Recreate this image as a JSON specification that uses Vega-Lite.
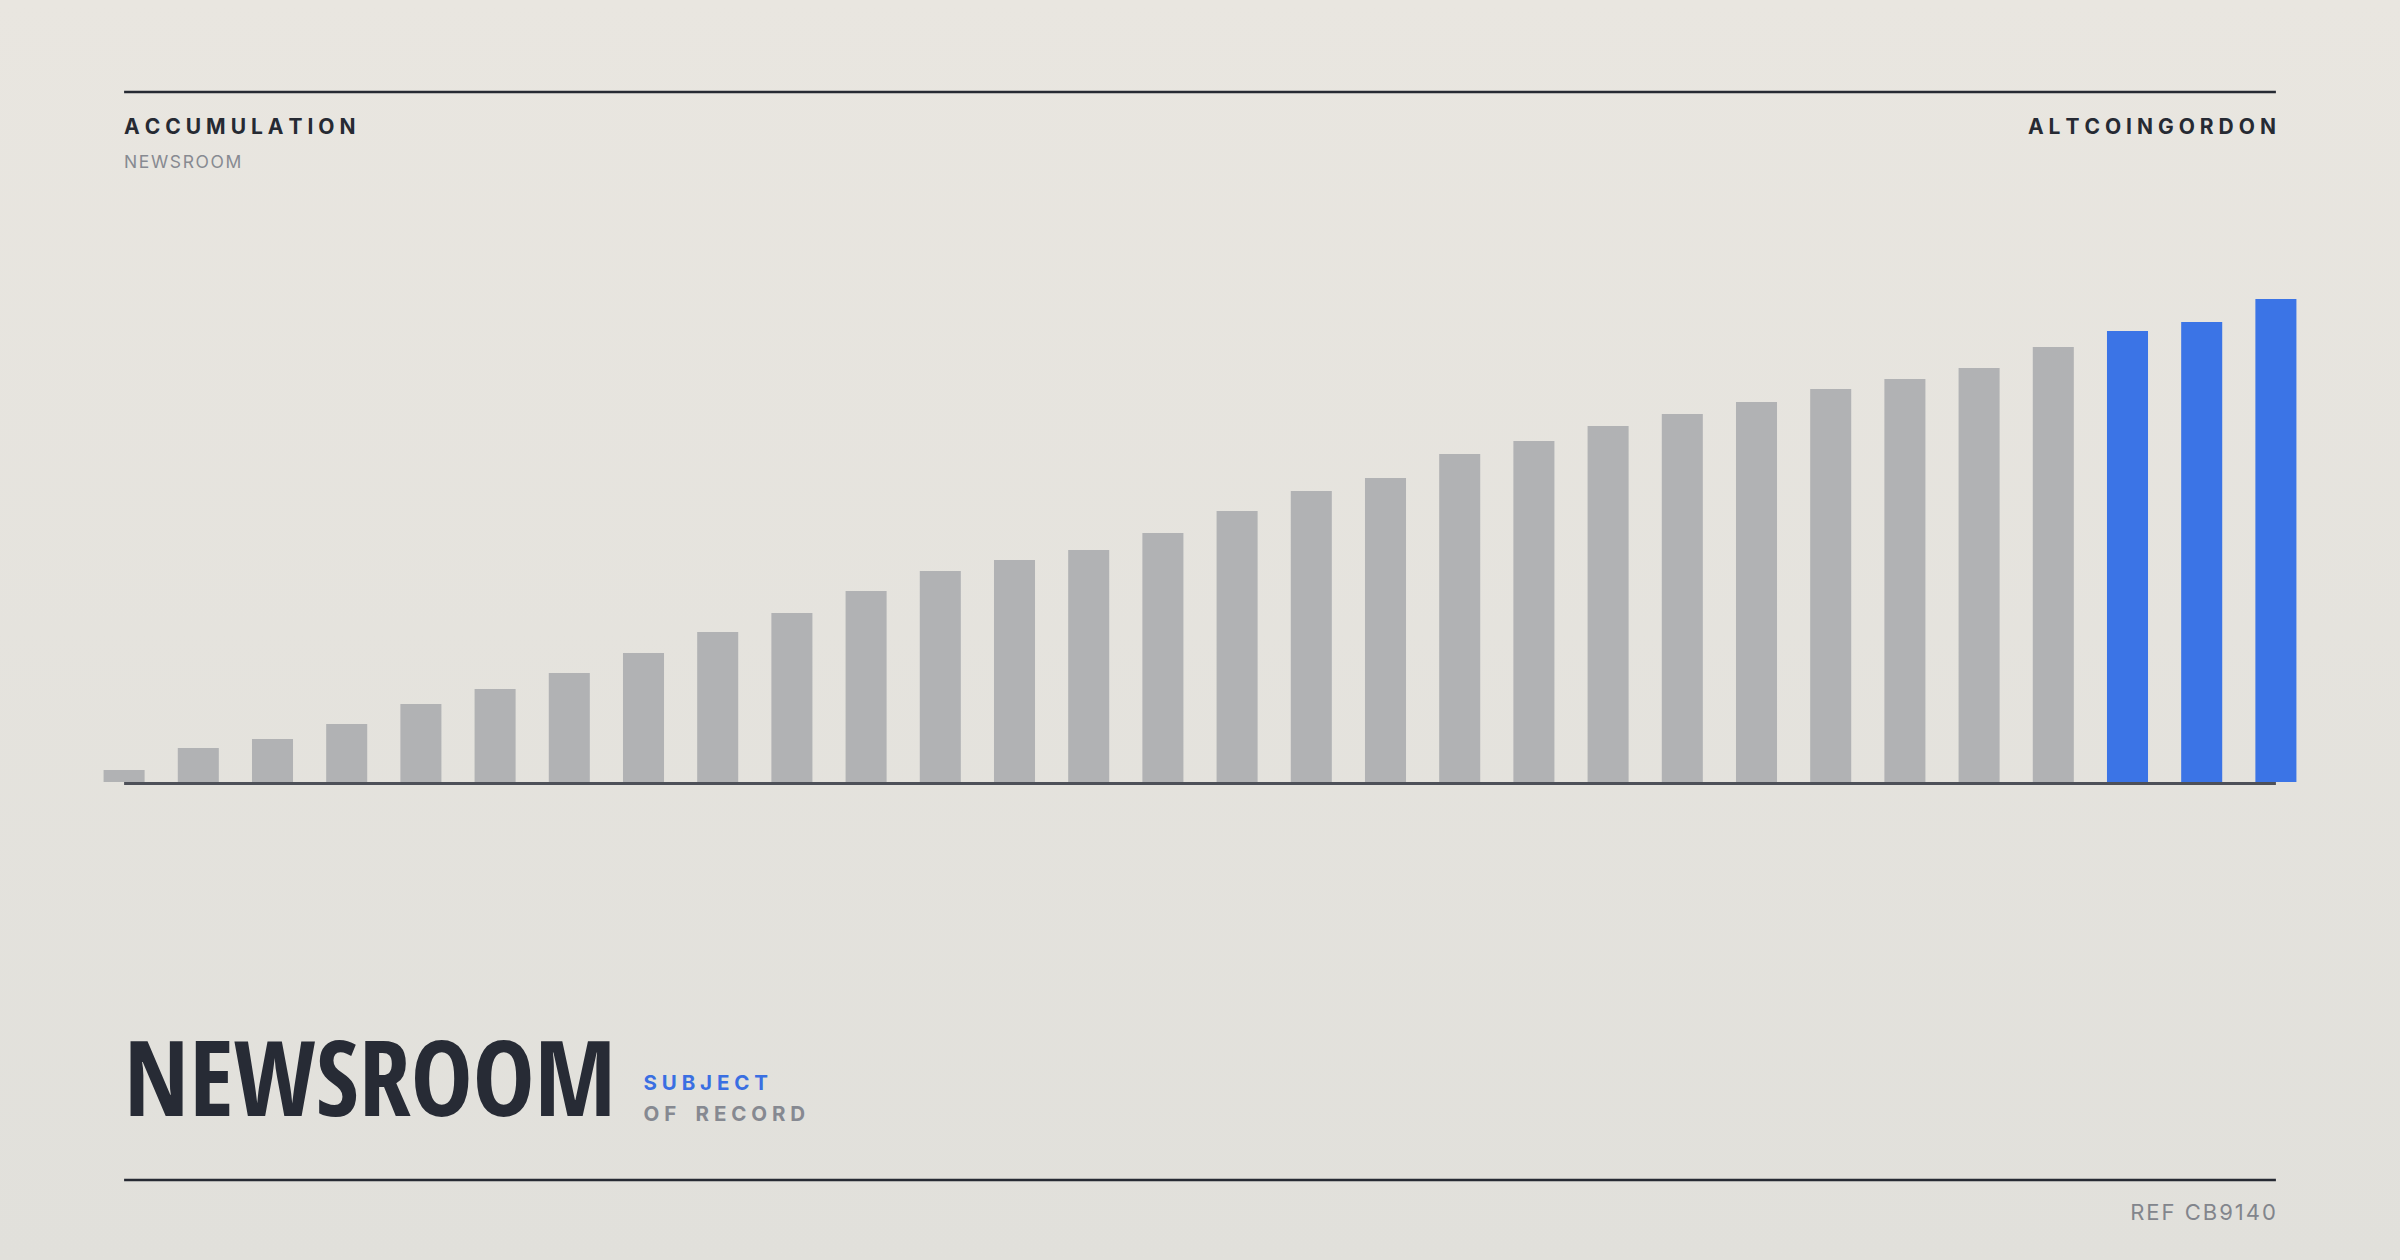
{
  "$schema": "https://vega.github.io/schema/vega-lite/v6.json",
  "width": 2400,
  "height": 1260,
  "autosize": {"type": "fit", "contains": "padding"},
  "padding": 0,
  "background": "#e5e3de",
  "config": {
    "view": {
      "stroke": null,
      "fill": {"gradient": "linear", "x1": 0, "y1": 0, "x2": 0, "y2": 1,
        "stops": [{"offset": 0, "color": "#e9e6e0"}, {"offset": 1, "color": "#e1e0db"}]}
    },
    "axis": {"disable": true}
  },
  "data": {"values": [
    {"i": 1, "v": 12, "grp": "base"},
    {"i": 2, "v": 34, "grp": "base"},
    {"i": 3, "v": 43, "grp": "base"},
    {"i": 4, "v": 58, "grp": "base"},
    {"i": 5, "v": 78, "grp": "base"},
    {"i": 6, "v": 93, "grp": "base"},
    {"i": 7, "v": 109, "grp": "base"},
    {"i": 8, "v": 129, "grp": "base"},
    {"i": 9, "v": 150, "grp": "base"},
    {"i": 10, "v": 169, "grp": "base"},
    {"i": 11, "v": 191, "grp": "base"},
    {"i": 12, "v": 211, "grp": "base"},
    {"i": 13, "v": 222, "grp": "base"},
    {"i": 14, "v": 232, "grp": "base"},
    {"i": 15, "v": 249, "grp": "base"},
    {"i": 16, "v": 271, "grp": "base"},
    {"i": 17, "v": 291, "grp": "base"},
    {"i": 18, "v": 304, "grp": "base"},
    {"i": 19, "v": 328, "grp": "base"},
    {"i": 20, "v": 341, "grp": "base"},
    {"i": 21, "v": 356, "grp": "base"},
    {"i": 22, "v": 368, "grp": "base"},
    {"i": 23, "v": 380, "grp": "base"},
    {"i": 24, "v": 393, "grp": "base"},
    {"i": 25, "v": 403, "grp": "base"},
    {"i": 26, "v": 414, "grp": "base"},
    {"i": 27, "v": 435, "grp": "base"},
    {"i": 28, "v": 451, "grp": "hi"},
    {"i": 29, "v": 460, "grp": "hi"},
    {"i": 30, "v": 483, "grp": "hi"}
  ]},
  "layer": [
    {
      "mark": {"type": "bar"},
      "encoding": {
        "x": {"field": "i", "type": "ordinal", "axis": null, "scale": {"range": [87, 2313], "paddingInner": 0.447, "paddingOuter": 0.2235}},
        "y": {"field": "v", "type": "quantitative", "axis": null, "scale": {"domain": [-478, 782], "nice": false, "zero": false}},
        "color": {"field": "grp", "type": "nominal", "legend": null, "scale": {"domain": ["base", "hi"], "range": ["#b1b2b4", "#3b74e6"]}}
      }
    },
    {
      "data": {"values": [{}]},
      "mark": {"type": "rule", "color": "#4d5058", "strokeWidth": 3},
      "encoding": {
        "x": {"datum": 1, "type": "ordinal", "bandPosition": 0.5},
        "x2": {"datum": 30, "bandPosition": 0.5},
        "y": {"datum": -1.5, "type": "quantitative"}
      }
    },
    {
      "data": {"values": [{}]},
      "mark": {"type": "rule", "color": "#262a33", "strokeWidth": 2.5},
      "encoding": {
        "x": {"datum": 1, "type": "ordinal", "bandPosition": 0.5},
        "x2": {"datum": 30, "bandPosition": 0.5},
        "y": {"datum": 690, "type": "quantitative"}
      }
    },
    {
      "data": {"values": [{}]},
      "mark": {"type": "rule", "color": "#262a33", "strokeWidth": 2.5},
      "encoding": {
        "x": {"datum": 1, "type": "ordinal", "bandPosition": 0.5},
        "x2": {"datum": 30, "bandPosition": 0.5},
        "y": {"datum": -398, "type": "quantitative"}
      }
    },
    {
      "data": {"values": [{}]},
      "mark": {"type": "text", "text": "A C C U M U L A T I O N", "font": "Inter", "fontWeight": "bold", "fontSize": 21, "align": "left", "baseline": "alphabetic", "color": "#262a33"},
      "encoding": {
        "x": {"datum": 1, "type": "ordinal", "bandPosition": 0.5},
        "y": {"datum": 648, "type": "quantitative"}
      }
    },
    {
      "data": {"values": [{}]},
      "mark": {"type": "text", "text": "N\u200aE\u200aW\u200aS\u200aR\u200aO\u200aO\u200aM", "font": "Inter", "fontWeight": "normal", "fontSize": 17.5, "align": "left", "baseline": "alphabetic", "color": "#878a91"},
      "encoding": {
        "x": {"datum": 1, "type": "ordinal", "bandPosition": 0.5},
        "y": {"datum": 614, "type": "quantitative"}
      }
    },
    {
      "data": {"values": [{}]},
      "mark": {"type": "text", "text": "A L T C O I N G O R D O N", "font": "Inter", "fontWeight": "bold", "fontSize": 21, "align": "right", "baseline": "alphabetic", "color": "#262a33"},
      "encoding": {
        "x": {"datum": 30, "type": "ordinal", "bandPosition": 0.5},
        "y": {"datum": 648, "type": "quantitative"}
      }
    },
    {
      "data": {"values": [{}]},
      "mark": {"type": "text", "text": "NEWSROOM", "font": "Liberation Sans Narrow, Open Sans Condensed, DejaVu Sans Condensed", "fontWeight": "bold", "fontSize": 104, "align": "left", "baseline": "alphabetic", "color": "#272b35"},
      "encoding": {
        "x": {"datum": 1, "type": "ordinal", "bandPosition": 0.5},
        "y": {"datum": -334, "type": "quantitative"}
      }
    },
    {
      "data": {"values": [{}]},
      "mark": {"type": "text", "text": "S U B J E C T", "font": "Inter", "fontWeight": "bold", "fontSize": 20.5, "align": "left", "baseline": "alphabetic", "color": "#3a6fe2"},
      "encoding": {
        "x": {"datum": 8, "type": "ordinal", "bandPosition": 0.5},
        "y": {"datum": -308, "type": "quantitative"}
      }
    },
    {
      "data": {"values": [{}]},
      "mark": {"type": "text", "text": "O F\u00a0\u00a0\u00a0\u00a0R E C O R D", "font": "Inter", "fontWeight": "bold", "fontSize": 20.5, "align": "left", "baseline": "alphabetic", "color": "#868991"},
      "encoding": {
        "x": {"datum": 8, "type": "ordinal", "bandPosition": 0.5},
        "y": {"datum": -339, "type": "quantitative"}
      }
    },
    {
      "data": {"values": [{}]},
      "mark": {"type": "text", "text": "R\u200aE\u200aF\u200a \u200aC\u200aB\u200a9\u200a1\u200a4\u200a0", "font": "Inter", "fontWeight": "normal", "fontSize": 22, "align": "right", "baseline": "alphabetic", "color": "#82858c"},
      "encoding": {
        "x": {"datum": 30, "type": "ordinal", "bandPosition": 0.5},
        "y": {"datum": -438, "type": "quantitative"}
      }
    }
  ]
}
